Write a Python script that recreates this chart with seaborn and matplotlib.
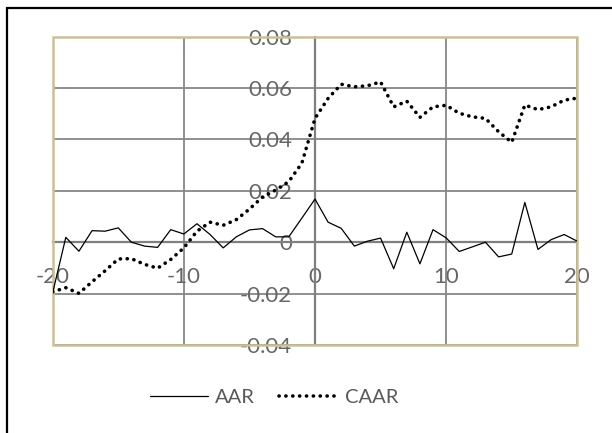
import pandas as pd
import matplotlib
matplotlib.use("Agg")
from matplotlib import pyplot as plt
from matplotlib.patches import Rectangle
import seaborn as sns

# event window days and abnormal returns
days = list(range(-20, 21))
aar = [-0.0196, 0.0019, -0.0035, 0.0045, 0.0043, 0.0056, 0.0000, -0.0015, -0.0020, 0.0049,
       0.0032, 0.0072, 0.0030, -0.0022, 0.0021, 0.0048, 0.0053, 0.0021, 0.0021, 0.0094,
       0.0168, 0.0078, 0.0054, -0.0015, 0.0004, 0.0016, -0.0103, 0.0039, -0.0084, 0.0049,
       0.0017, -0.0036, -0.0018, 0.0000, -0.0057, -0.0046, 0.0155, -0.0028, 0.0010, 0.0030,
       0.0004]
caar = [-0.0193, -0.0177, -0.0199, -0.0154, -0.0111, -0.0065, -0.0064, -0.0086, -0.0101, -0.0067,
        -0.0022, 0.0043, 0.0078, 0.0066, 0.0088, 0.0129, 0.0176, 0.0203, 0.0236, 0.0308,
        0.0482, 0.0560, 0.0615, 0.0605, 0.0609, 0.0624, 0.0527, 0.0549, 0.0486, 0.0527,
        0.0533, 0.0502, 0.0488, 0.0482, 0.0430, 0.0389, 0.0534, 0.0516, 0.0527, 0.0553,
        0.0561]
xticks = [-20, -10, 0, 10, 20]
xlabels = ['-20', '-10', '0', '10', '20']
yticks = [-0.04, -0.02, 0.0, 0.02, 0.04, 0.06, 0.08]
ylabels = ['-0.04', '-0.02', '0', '0.02', '0.04', '0.06', '0.08']

df = pd.DataFrame({'day': days, 'AAR': aar, 'CAAR': caar})

sns.set_style('white')
plt.rcParams['font.family'] = ['Lato', 'DejaVu Sans']

fig = plt.figure(figsize=(6.12, 4.33), dpi=100)
ax = fig.add_axes([52.7 / 612, 1 - 345 / 433, (577.3 - 52.7) / 612, (345 - 36.7) / 433])

sns.lineplot(data=df, x='day', y='AAR', color='black', lw=0.9, label='AAR', ax=ax, zorder=5)
sns.lineplot(data=df, x='day', y='CAAR', color='black', lw=2.6, label='CAAR', ax=ax,
             linestyle=(0, (0.05, 1.85)), dash_capstyle='round', zorder=5)

ax.set_xlim(-20, 20)
ax.set_ylim(-0.04, 0.08)
ax.set_xticks(xticks)
ax.set_xticklabels(xlabels)
ax.set_yticks(yticks)
ax.set_yticklabels(ylabels)
ax.set_xlabel('')
ax.set_ylabel('')

grey = '#878787'
ax.grid(True, color=grey, lw=1.3)
ax.set_axisbelow(True)

# axes cross at zero, Excel style
ax.spines['left'].set_position(('data', 0))
ax.spines['bottom'].set_position(('data', 0))
for s in ['left', 'bottom']:
    ax.spines[s].set_color('#7f7f7f')
    ax.spines[s].set_linewidth(1.6)
    ax.spines[s].set_zorder(3)
for s in ['top', 'right']:
    ax.spines[s].set_visible(False)
ax.add_patch(Rectangle((0, 0), 1, 1, transform=ax.transAxes, fill=False,
                       edgecolor='#c9c09b', lw=1.8, clip_on=False, zorder=4))

ax.tick_params(axis='both', length=0, labelsize=16, labelcolor='#666666')
ax.tick_params(axis='y', pad=16.5)
ax.tick_params(axis='x', pad=18)

leg = ax.legend(loc='center', bbox_to_anchor=(274 / 612, 1 - 397 / 433),
                bbox_transform=fig.transFigure, ncol=2, frameon=False,
                fontsize=14.5, handlelength=2.9, handletextpad=0.35, columnspacing=1.2)
for t in leg.get_texts():
    t.set_color('#595959')

# outer chart frame (cut off at right and bottom)
fig.add_artist(Rectangle((7 / 612, -0.5), 2, 1.5 - 7.5 / 433, transform=fig.transFigure,
                         fill=False, edgecolor='black', lw=1.6))

fig.savefig('out.png', dpi=100)
